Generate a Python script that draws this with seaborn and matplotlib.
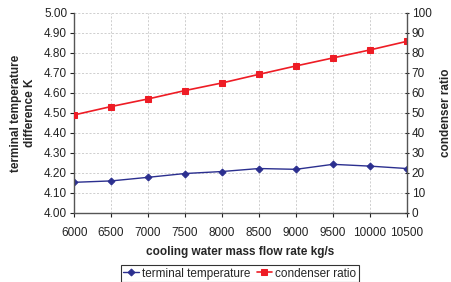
import numpy as np
import pandas as pd
import matplotlib
matplotlib.use("Agg")
import matplotlib.pyplot as plt
import seaborn as sns

flow_rate = [6000, 6500, 7000, 7500, 8000, 8500, 9000, 9500, 10000, 10500]
terminal_temp = [4.153, 4.160, 4.178, 4.197, 4.207, 4.222, 4.218, 4.243, 4.234, 4.222]
condenser_ratio = [49.0, 53.2, 57.0, 61.2, 65.0, 69.3, 73.5, 77.5, 81.5, 85.8]

sns.set_style("white")
plt.rcParams['font.family'] = ['Liberation Sans', 'DejaVu Sans']

df = pd.DataFrame({"flow": flow_rate, "temp": terminal_temp, "ratio": condenser_ratio})

fig = plt.figure(figsize=(4.52, 2.82), dpi=100)
ax = fig.add_axes([0.164, 0.245, 0.736, 0.709])
ax2 = ax.twinx()

blue = "#2b2f8f"
red = "#ee1c25"

sns.lineplot(data=df, x="flow", y="temp", ax=ax, color=blue, marker="D", markersize=3.5,
             markeredgecolor=blue, linewidth=1.0, label="terminal temperature", legend=False)
sns.lineplot(data=df, x="flow", y="ratio", ax=ax2, color=red, marker="s", markersize=5,
             markeredgecolor=red, linewidth=1.2, label="condenser ratio", legend=False)

ax.set_xlim(6000, 10500)
ax.set_ylim(4.0, 5.0)
ax2.set_ylim(0, 100)
ax.set_xticks(flow_rate)
ax.set_yticks(np.arange(4.0, 5.01, 0.1))
ax.set_yticklabels([f"{v:.2f}" for v in np.arange(4.0, 5.01, 0.1)])
ax2.set_yticks(range(0, 101, 10))

ax.grid(True, color="#c8c8c8", linestyle=(0, (2.5, 2)), linewidth=0.6)
ax.set_axisbelow(True)

for a in (ax, ax2):
    a.spines["top"].set_visible(False)
    for s in ("left", "right", "bottom"):
        a.spines[s].set_color("#555555")
        a.spines[s].set_linewidth(1.0)
ax.spines["right"].set_visible(False)
ax2.spines["left"].set_visible(False)
ax2.spines["bottom"].set_visible(False)

ax.tick_params(axis="y", labelsize=8.5, colors="#222222", length=3, width=0.8, direction="out",
               left=True, pad=2)
ax.tick_params(axis="x", labelsize=8.5, colors="#222222", length=3, width=0.8, direction="out",
               bottom=True, pad=7)
ax2.tick_params(axis="y", labelsize=8.5, colors="#222222", length=3, width=0.8, direction="inout",
                right=True, pad=2)

ax.set_xlabel("cooling water mass flow rate kg/s", fontsize=8.5, fontweight="bold", labelpad=5)
ax.set_ylabel("terminal temperature\ndifference K", fontsize=8.5, fontweight="bold", labelpad=6)
ax2.set_ylabel("condenser ratio", fontsize=8.5, fontweight="bold", labelpad=6)

h1, l1 = ax.get_legend_handles_labels()
h2, l2 = ax2.get_legend_handles_labels()
leg = fig.legend(h1 + h2, l1 + l2, loc="center", bbox_to_anchor=(0.531, 0.03), ncol=2,
                 fontsize=8.5, frameon=True, fancybox=False, edgecolor="black",
                 handlelength=1.3, handletextpad=0.3, columnspacing=0.5, borderpad=0.2,
                 borderaxespad=0)
leg.get_frame().set_linewidth(0.8)

fig.savefig("out.png", dpi=100)
